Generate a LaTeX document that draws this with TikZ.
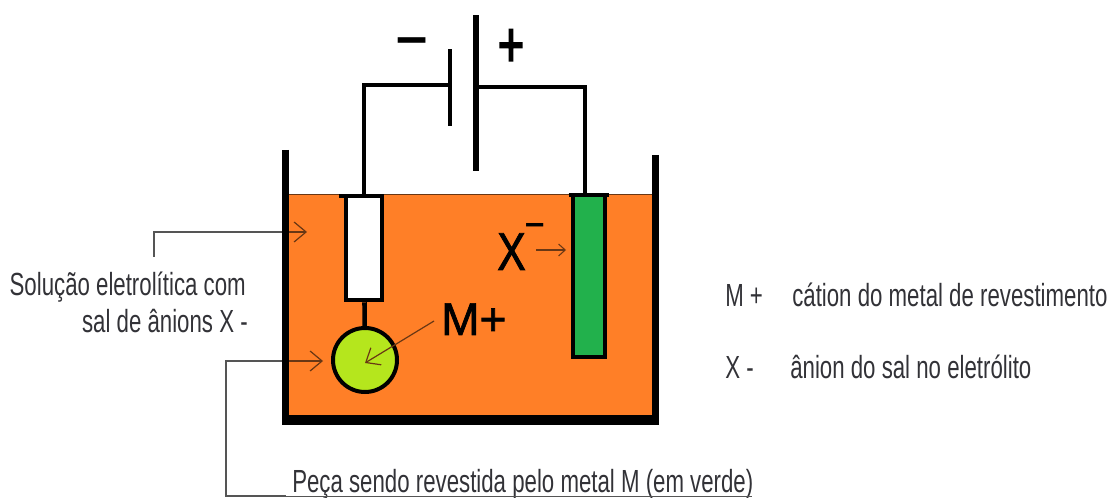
\documentclass[tikz,border=0pt]{standalone}
\usepackage{fontspec}
\setmainfont{Liberation Sans}
\newfontfamily\narrowfont[FakeStretch=0.695]{Liberation Sans}
\newfontfamily\ionfont[FakeBold=1.5]{Liberation Sans}
\newfontfamily\ionnarrowfont[FakeStretch=0.80,FakeBold=1.5]{Liberation Sans}
\newfontfamily\plusfont[FakeStretch=0.70,FakeBold=2.5]{Liberation Sans}
\usepackage{xcolor}
\usetikzlibrary{arrows.meta,positioning}
\definecolor{bathorange}{RGB}{255,127,39}
\definecolor{anodegreen}{RGB}{34,177,76}
\definecolor{partgreen}{RGB}{181,230,29}
\definecolor{leadgray}{RGB}{85,85,85}
\definecolor{pointbrown}{RGB}{105,55,20}
\definecolor{textgray}{RGB}{50,50,55}
\tikzstyle{wire} = [line width=3.4pt,color=black]
\tikzstyle{wall} = [line width=5.25pt,color=black]
\tikzstyle{plate} = [rectangle, fill=black, inner sep=0pt, minimum width=3.4pt]
\tikzstyle{rod} = [rectangle, draw=black, line width=3.4pt, inner sep=0pt]
\tikzstyle{leader} = [line width=1.1pt,color=leadgray]
\tikzstyle{pointer} = [line width=0.9pt,color=pointbrown,-{Straight Barb[length=9pt,width=15pt]}]
\tikzstyle{caption} = [inner sep=0pt, text=textgray, font=\narrowfont\fontsize{24}{28}\selectfont]
\tikzstyle{sign} = [inner sep=0pt, text=black]
\begin{document}
\begin{tikzpicture}[x=0.75pt,y=-0.75pt]
\useasboundingbox (0,0) rectangle (1110,498);
% Bath
\node[rectangle, fill=bathorange, inner sep=0pt, minimum width=273pt, minimum height=165pt] (bath) at (470,305) {};
\draw[line width=0.8pt,color=pointbrown] (bath.north west) -- (bath.north east);
% Electrodes
\node[rod, fill=white, minimum width=27pt, minimum height=78pt] (cathode) at (364,248) {};
\node[rod, fill=anodegreen, minimum width=24pt, minimum height=121.5pt] (anode) at (589,276) {};
\node[circle, draw=black, fill=partgreen, line width=3pt, inner sep=0pt, minimum size=48pt] (part) at (365,360) {};
\draw[wire] (cathode) -- (part);
\draw[rod] ([xshift=-3.5pt,yshift=-1.7pt]cathode.north west) -- ([yshift=-1.7pt]cathode.north east);
\draw[rod] ([xshift=-1.5pt,yshift=-1.7pt]anode.north west) -- ([xshift=1.5pt,yshift=-1.7pt]anode.north east);
% Battery
\node[plate, minimum height=58pt] (negplate) at (450,87.5) {};
\node[plate, minimum width=3.8pt, minimum height=117pt] (posplate) at (476,93) {};
\coordinate (negjoin) at (450,85);
\coordinate (posjoin) at (476,87);
\draw[wire] (cathode.north) |- (negjoin);
\draw[wire] (posjoin) -| ([xshift=-3pt]anode.north);
\node[sign, font=\bfseries\fontsize{42}{42}\selectfont] (minus) at (412,47) {–};
\node[sign, font=\plusfont\fontsize{48}{48}\selectfont] (plus) at (511,48) {+};
% Leaders
\coordinate (solfoot) at (154,257);
\coordinate (solwall) at (285,232);
\coordinate (soltip) at (307,232);
\coordinate (partfoot) at (286,496);
\coordinate (partwall) at (285,361);
\coordinate (parttip) at (323,361);
\draw[leader] (solfoot) |- (solwall);
\draw[leader] (partfoot) -| (226,361) -- (partwall);
\draw[pointer] (solwall) -- (soltip);
\draw[pointer] (partwall) -- (parttip);
% Tank
\draw[wall] (285.5,150) -- (285.5,424);
\draw[wall] (655,155) -- (655,424);
\draw[line width=7.5pt] (282,420) -- (659,420);
% Ions
\node[sign, anchor=base west, font=\ionfont\fontsize{34.5}{36}\selectfont] (mion) at (441,335) {M+};
\node[sign, anchor=base west, font=\ionnarrowfont\fontsize{40}{40}\selectfont] (xion) at (497,270) {X};
\node[sign, font=\bfseries\fontsize{26}{26}\selectfont] (xminus) at (535,229) {–};
\coordinate (xfoot) at (536,250);
\coordinate (xtip) at (566,250);
\draw[line width=0.8pt,color=pointbrown,-{Straight Barb[length=5pt,width=9pt]}] (xfoot) -- (xtip);
\coordinate (mfoot) at (434,321);
\coordinate (mtip) at (365,363);
\draw[pointer] (mfoot) -- (mtip);
% Captions
\node[caption, anchor=base east] (sol1) at (246,296) {Solução eletrolítica com};
\node[caption, anchor=base east] (sol2) at (248,333) {sal de ânions X -};
\node[caption, anchor=base west] (peca) at (292,493) {Peça sendo revestida pelo metal M (em verde)};
\draw[leader, line width=0.7pt] (partfoot) -- (752,496);
\node[caption, anchor=base west] (mkey) at (725,307) {M +};
\node[caption, anchor=base west] (mtext) at (792,307) {cátion do metal de revestimento};
\node[caption, anchor=base west] (xkey) at (725,379) {X -};
\node[caption, anchor=base west] (xtext) at (790,379) {ânion do sal no eletrólito};
\end{tikzpicture}
\end{document}
